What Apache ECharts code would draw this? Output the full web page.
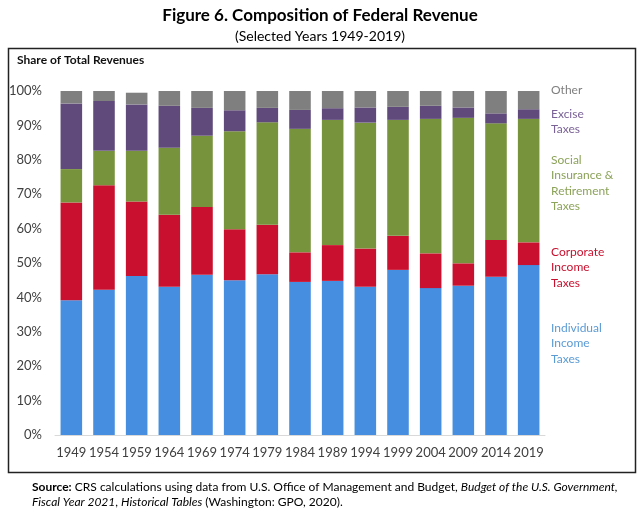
<!DOCTYPE html>
<html>
<head>
    <meta http-equiv=Content-Type content="text/html; charset=utf-8">
    <title>Composition of Federal Revenue</title>
    <script type="text/javascript" src="https://cdn.jsdelivr.net/npm/echarts@6/dist/echarts.min.js"></script>
    <style>
        html, body { margin: 0; padding: 0; background: #fff; }
        #chartmain { width: 640px; height: 513px; }
    </style>
</head>
<body>
<div id="chartmain"></div>

<script type="text/javascript">
    // 年份
    var years = ['1949', '1954', '1959', '1964', '1969', '1974', '1979', '1984',
                 '1989', '1994', '1999', '2004', '2009', '2014', '2019'];
    // 各项收入占比 (%)
    var individual = [39.2, 42.2, 46.2, 43.1, 46.6, 45.0, 46.7, 44.5, 44.8, 43.1, 48.0, 42.7, 43.4, 46.0, 49.4];
    var corporate  = [28.4, 30.4, 21.7, 20.9, 19.7, 14.8, 14.4,  8.6, 10.4, 11.1,  9.9, 10.1,  6.5, 10.7,  6.6];
    var social     = [ 9.7, 10.0, 14.7, 19.5, 20.7, 28.5, 29.8, 35.9, 36.4, 36.6, 33.7, 39.1, 42.3, 33.9, 35.9];
    var excise     = [19.1, 14.5, 13.5, 12.2,  8.1,  6.1,  4.2,  5.5,  3.4,  4.4,  3.8,  3.8,  3.0,  2.9,  2.8];
    var other      = [ 3.6,  2.9,  3.4,  4.3,  4.9,  5.6,  4.9,  5.5,  5.0,  4.8,  4.6,  4.3,  4.8,  6.5,  5.3];
    var yTicks = [0, 100, 10];

    var myChart = echarts.init(document.getElementById('chartmain'));

    function bar(name, data, color) {
        return {
            name: name,
            type: 'bar',
            stack: 'total',
            data: data,
            barCategoryGap: '34%',
            itemStyle: { color: color },
            silent: true
        };
    }

    var labelFont = 'Lato, "Open Sans", sans-serif';

    function sideLabel(top, text, color) {
        return {
            type: 'text', left: 551, top: top,
            style: { text: text, fill: color, font: '12px ' + labelFont, lineHeight: 15.5 }
        };
    }

    var option = {
        animation: false,
        title: {
            text: 'Figure 6. Composition of Federal Revenue',
            subtext: '(Selected Years 1949-2019)',
            left: 'center',
            top: 2,
            itemGap: 5,
            textStyle: { fontSize: 17, fontWeight: 'bold', color: '#000', fontFamily: labelFont },
            subtextStyle: { fontSize: 14, color: '#000', fontFamily: labelFont }
        },
        grid: { left: 55, right: 95, top: 91, bottom: 78 },
        xAxis: {
            type: 'category',
            data: years,
            axisTick: { show: false },
            axisLine: { lineStyle: { color: '#d9d9d9' } },
            axisLabel: { color: '#404040', fontSize: 13, margin: 11, fontFamily: labelFont, interval: 0 }
        },
        yAxis: {
            type: 'value',
            min: yTicks[0],
            max: yTicks[1],
            interval: yTicks[2],
            splitLine: { show: false },
            axisLabel: { formatter: '{value}%', color: '#404040', fontSize: 13, margin: 13, fontFamily: labelFont }
        },
        series: [
            bar('Individual Income Taxes', individual, '#468ee0'),
            bar('Corporate Income Taxes', corporate, '#c9102e'),
            bar('Social Insurance & Retirement Taxes', social, '#77933c'),
            bar('Excise Taxes', excise, '#604a7b'),
            bar('Other', other, '#7f7f7f')
        ],
        graphic: [
            {
                type: 'rect', left: 6, top: 46, silent: true,
                shape: { width: 627, height: 424 },
                style: { fill: 'none', stroke: '#222', lineWidth: 1.5 }
            },
            {
                type: 'text', left: 17, top: 54,
                style: { text: 'Share of Total Revenues', fill: '#111', font: 'bold 12px ' + labelFont }
            },
            sideLabel(82, 'Other', '#7f7f7f'),
            sideLabel(106, 'Excise\nTaxes', '#7a6296'),
            sideLabel(152, 'Social\nInsurance &\nRetirement\nTaxes', '#8ca35a'),
            sideLabel(244, 'Corporate\nIncome\nTaxes', '#c9102e'),
            sideLabel(320, 'Individual\nIncome\nTaxes', '#5b9bd5'),
            {
                type: 'text', left: 32, top: 480,
                style: {
                    text: '{b|Source:} CRS calculations using data from U.S. Office of Management and Budget, {i|Budget of the U.S. Government,}\n{i|Fiscal Year 2021}, {i|Historical Tables} (Washington: GPO, 2020).',
                    fill: '#000',
                    font: '12px ' + labelFont,
                    lineHeight: 15,
                    rich: {
                        b: { fontWeight: 'bold', fontSize: 12, fontFamily: labelFont },
                        i: { fontStyle: 'italic', fontSize: 12, fontFamily: labelFont }
                    }
                }
            }
        ]
    };
    myChart.setOption(option);
</script>
</body>
</html>
